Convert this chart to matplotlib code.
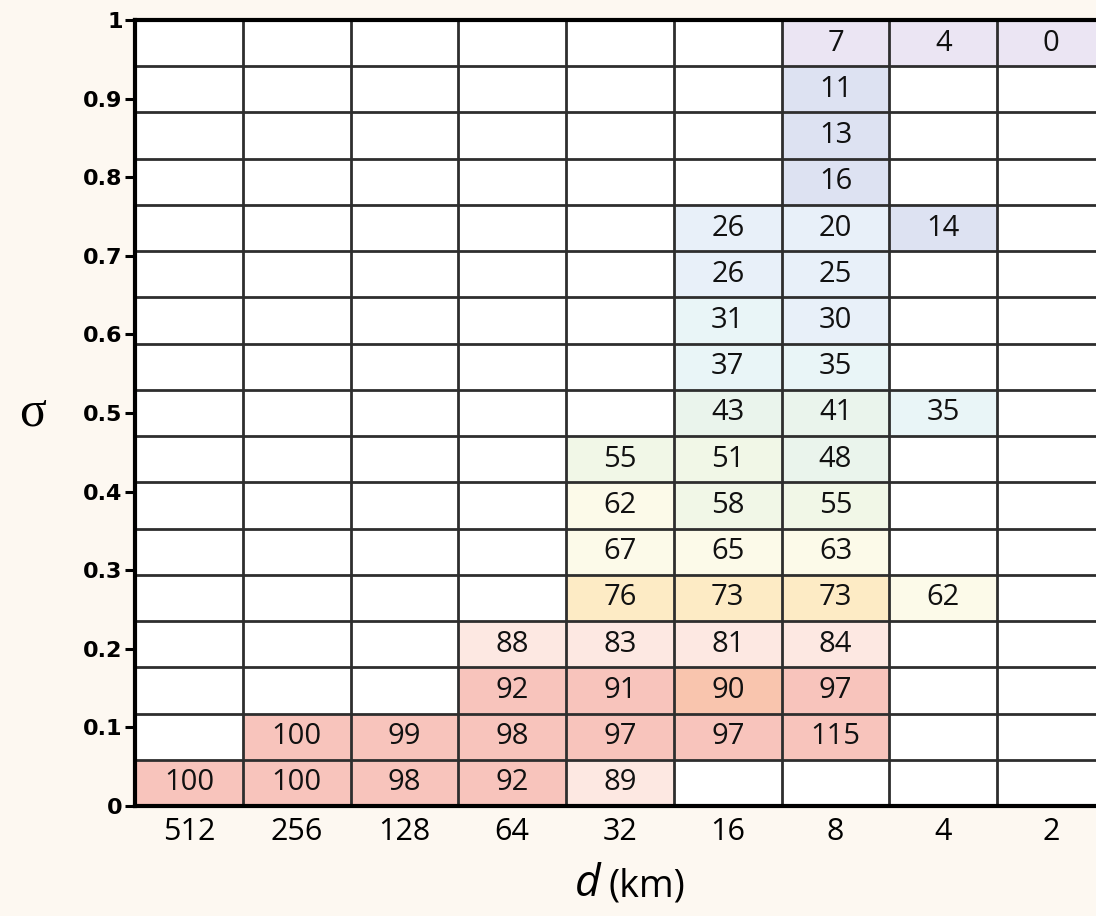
import matplotlib
matplotlib.use('Agg')
import matplotlib.pyplot as plt
from matplotlib.colors import ListedColormap, BoundaryNorm
import numpy as np

# column labels (d in km) and cell values, rows listed from the top (sigma = 1) down
d_labels = ['512', '256', '128', '64', '32', '16', '8', '4', '2']
sigma_ticks = [0, 0.1, 0.2, 0.3, 0.4, 0.5, 0.6, 0.7, 0.8, 0.9, 1]
sigma_ticklabels = ['0', '0.1', '0.2', '0.3', '0.4', '0.5', '0.6', '0.7', '0.8', '0.9', '1']
N = None
rows_top_down = [
  [N, N, N, N, N, N, 7, 4, 0],
  [N, N, N, N, N, N, 11, N, N],
  [N, N, N, N, N, N, 13, N, N],
  [N, N, N, N, N, N, 16, N, N],
  [N, N, N, N, N, 26, 20, 14, N],
  [N, N, N, N, N, 26, 25, N, N],
  [N, N, N, N, N, 31, 30, N, N],
  [N, N, N, N, N, 37, 35, N, N],
  [N, N, N, N, N, 43, 41, 35, N],
  [N, N, N, N, 55, 51, 48, N, N],
  [N, N, N, N, 62, 58, 55, N, N],
  [N, N, N, N, 67, 65, 63, N, N],
  [N, N, N, N, 76, 73, 73, 62, N],
  [N, N, N, 88, 83, 81, 84, N, N],
  [N, N, N, 92, 91, 90, 97, N, N],
  [N, 100, 99, 98, 97, 97, 115, N, N],
  [100, 100, 98, 92, 89, N, N, N, N],
]

vals = np.array([[np.nan if v is None else v for v in r] for r in rows_top_down[::-1]], dtype=float)
nrows, ncols = vals.shape

# binned colours for the cell fill
bounds = [-1, 9.5, 18, 30.5, 40, 50, 60, 70, 80, 89.5, 90.5, 200]
colors = ['#ebe5f3', '#dde2f2', '#e8f0f9', '#e9f5f7', '#eaf4ec', '#f1f7e7',
          '#fcfae9', '#fdebc5', '#fde8e2', '#f9c5ae', '#f8c4bc']
cmap = ListedColormap(colors)
cmap.set_bad('white')
norm = BoundaryNorm(bounds, cmap.N)

bg = '#fdf8f1'
fig = plt.figure(figsize=(10.96, 9.16), dpi=100, facecolor=bg)
ax = fig.add_axes([135 / 1096, 110 / 916, 970 / 1096, 786 / 916])
ax.set_facecolor('white')

xe = np.arange(ncols + 1)
ye = np.linspace(0, 1, nrows + 1)
ax.pcolormesh(xe, ye, np.ma.masked_invalid(vals), cmap=cmap, norm=norm)

for x in xe[1:]:
  ax.axvline(x, color='#2e2e2e', lw=2.0, zorder=2)
for y in ye[1:-1]:
  ax.axhline(y, color='#2e2e2e', lw=2.0, zorder=2)

for i in range(nrows):
  for j in range(ncols):
    if not np.isnan(vals[i, j]):
      ax.text(j + 0.5, (ye[i] + ye[i + 1]) / 2, '%d' % vals[i, j], ha='center', va='center',
              fontsize=21, family='Open Sans', color='#111111', zorder=3)

ax.set_xlim(0, ncols)
ax.set_ylim(0, 1)

ax.set_xticks(np.arange(ncols) + 0.5)
ax.set_xticklabels(d_labels, fontsize=22, family='Open Sans')
ax.tick_params(axis='x', length=0, pad=8)

ax.set_yticks(sigma_ticks)
ax.set_yticklabels(sigma_ticklabels, fontsize=16, family='DejaVu Sans', fontweight='bold')
ax.tick_params(axis='y', length=7, width=2.2, pad=2)

for s in ['left', 'bottom', 'top']:
  ax.spines[s].set_linewidth(3)
  ax.spines[s].set_color('black')
  ax.spines[s].set_zorder(4)
ax.spines['right'].set_visible(False)

fig.text(601 / 1096, 20 / 916, 'd', ha='right', va='baseline', fontsize=32,
         family='Open Sans', style='italic')
fig.text(608 / 1096, 20 / 916, '(km)', ha='left', va='baseline', fontsize=27,
         family='Open Sans')
fig.text(33 / 1096, (916 - 413) / 916, 'σ', ha='center', va='center', fontsize=36,
         family='Liberation Serif')

fig.savefig('out.png', facecolor=bg)
